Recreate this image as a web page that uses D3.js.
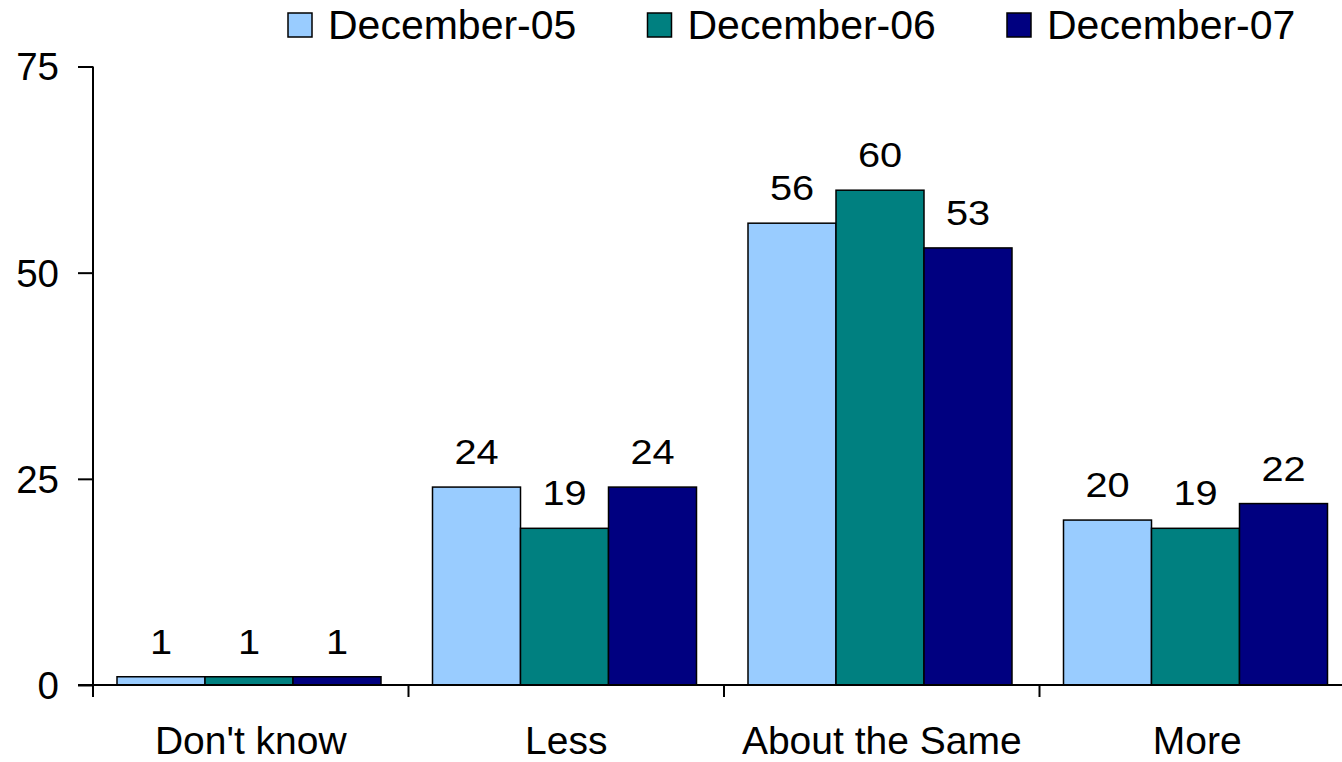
<!DOCTYPE html>
<html>
<head>
<meta charset="utf-8">
<script src="https://cdn.jsdelivr.net/npm/d3@7"></script>
<style>
  html, body { margin: 0; padding: 0; background: #fff; }
  svg { display: block; font-family: "Liberation Sans", Arial, sans-serif; }
</style>
</head>
<body>
<svg id="chart" width="1342" height="762"></svg>
<script>
const categories = ["Don't know", "Less", "About the Same", "More"];
const seriesNames = ["December-05", "December-06", "December-07"];
const dec05 = [1, 24, 56, 20];
const dec06 = [1, 19, 60, 19];
const dec07 = [1, 24, 53, 22];
const yTicks = [0, 25, 50, 75];
const colors = ["#99CCFF", "#008080", "#000080"];

const seriesValues = [dec05, dec06, dec07];

(function () {
const svg = d3.select("#chart");
const plotLeft = 93, plotRight = 1355, plotTop = 66.5, plotBottom = 685;

const y = d3.scaleLinear().domain([0, 75]).range([plotBottom, plotTop]);
const x0 = d3.scaleBand().domain(categories).range([plotLeft, plotRight]).padding(0);
const groupOffset = 24, groupWidth = 264;
const x1 = d3.scaleBand().domain(seriesNames).range([0, groupWidth]).padding(0);

// bars
const groups = svg.append("g").selectAll("g")
  .data(categories)
  .join("g")
  .attr("transform", c => `translate(${x0(c) + groupOffset},0)`);

groups.selectAll("rect")
  .data((c, ci) => seriesNames.map((s, si) => ({ s, si, v: seriesValues[si][ci] })))
  .join("rect")
  .attr("x", d => x1(d.s))
  .attr("y", d => y(d.v))
  .attr("width", x1.bandwidth())
  .attr("height", d => y(0) - y(d.v))
  .attr("fill", d => colors[d.si])
  .attr("stroke", "#000")
  .attr("stroke-width", 1.5);

// data labels
groups.selectAll("text")
  .data((c, ci) => seriesNames.map((s, si) => ({ s, si, v: seriesValues[si][ci] })))
  .join("text")
  .attr("transform", d => `translate(${x1(d.s) + x1.bandwidth() / 2},${y(d.v) - 23}) scale(1.12,1)`)
  .attr("text-anchor", "middle")
  .attr("font-size", 35.5)
  .attr("fill", "#000")
  .text(d => d.v);

// y axis
const yAxis = d3.axisLeft(y).tickValues(yTicks).tickSize(15).tickPadding(19);
const gy = svg.append("g").attr("transform", `translate(${plotLeft},0)`).call(yAxis);
gy.select(".domain").attr("stroke", "#000").attr("stroke-width", 2).attr("d", `M0,${plotTop}V${plotBottom}`);
gy.selectAll(".tick line").attr("stroke", "#000").attr("stroke-width", 2);
gy.selectAll(".tick text").attr("font-size", 38.5).attr("fill", "#000")
  .attr("font-family", "'Liberation Sans', Arial, sans-serif")
  .attr("dy", "0.35em");

// x axis
const xAxis = d3.axisBottom(x0).tickSize(0).tickPadding(0);
const gx = svg.append("g").attr("transform", `translate(0,${plotBottom})`).call(xAxis);
gx.select(".domain").attr("stroke", "#000").attr("stroke-width", 2).attr("d", `M${plotLeft - 15},0H${1342}`);
gx.selectAll(".tick text").attr("font-size", 39).attr("fill", "#000")
  .attr("font-family", "'Liberation Sans', Arial, sans-serif")
  .attr("y", 68.5).attr("dy", 0);
// category separator ticks
const sepPositions = categories.map(c => x0(c)).concat([plotRight]);
gx.selectAll("line.sep")
  .data(sepPositions)
  .join("line")
  .attr("class", "sep")
  .attr("x1", d => d).attr("x2", d => d)
  .attr("y1", 0).attr("y2", 12)
  .attr("stroke", "#000").attr("stroke-width", 2);

// legend
const legend = svg.append("g").selectAll("g")
  .data(seriesNames)
  .join("g")
  .attr("transform", (d, i) => `translate(${288 + i * 359.5},13)`);
legend.append("rect")
  .attr("width", 24).attr("height", 24)
  .attr("fill", (d, i) => colors[i])
  .attr("stroke", "#000").attr("stroke-width", 1.5);
legend.append("text")
  .attr("x", 40).attr("y", 26)
  .attr("font-size", 41)
  .attr("fill", "#000")
  .text(d => d);
})();
</script>
</body>
</html>
